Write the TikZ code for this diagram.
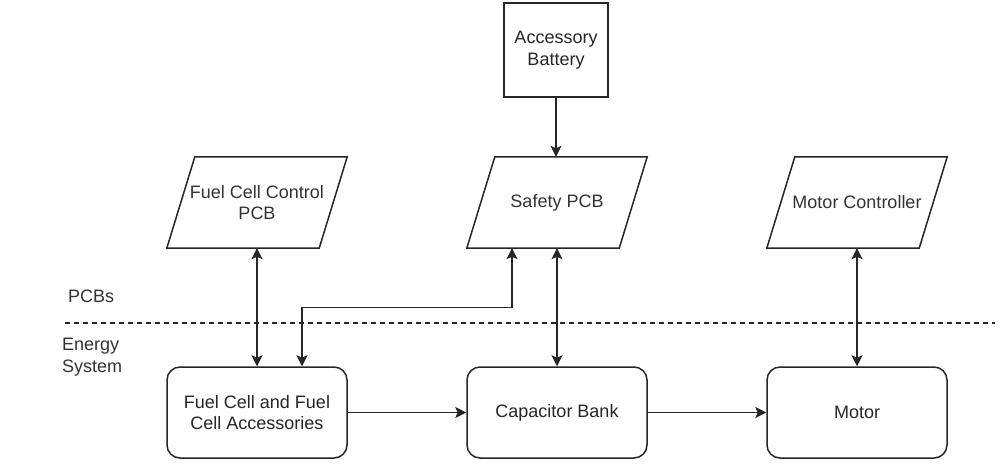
\documentclass[tikz,border=0pt]{standalone}
\usepackage{fontspec}
\setmainfont{Liberation Sans}
\usetikzlibrary{arrows.meta}
\begin{document}
\begin{tikzpicture}[x=1pt,y=-1pt,
  every node/.style={font=\fontsize{18}{21.6}\selectfont, text=black!80},
  line/.style={line width=1.5pt, black!85},
  blk/.style={line, draw, minimum width=180pt, minimum height=91pt, inner sep=0pt, align=center},
  roundbox/.style={blk, rounded corners=13pt},
  pcb/.style={minimum width=180pt, minimum height=91pt, inner sep=0pt, align=center},
  conn/.style={line, -{Stealth[length=11pt,width=11pt,inset=2.5pt]}},
  dconn/.style={line, {Stealth[length=11pt,width=11pt,inset=2.5pt]}-{Stealth[length=11pt,width=11pt,inset=2.5pt]}},
  lbl/.style={inner sep=0pt, align=left}
]
\useasboundingbox[fill=white] (0,0) rectangle (1003,475);

\node[blk, minimum width=104pt, minimum height=94pt] (bat) at (556,50) {Accessory\\Battery};
\node[pcb] (fcc) at (257,202.5) {Fuel Cell Control\\PCB};
\node[pcb] (spcb) at (557,202.5) {Safety PCB};
\node[pcb] (mc) at (857,202.5) {Motor Controller};
\foreach \n in {fcc,spcb,mc}
  \draw[line, line join=miter] ([xshift=28pt]\n.north west) -- (\n.north east) -- ([xshift=-28pt]\n.south east) -- (\n.south west) -- cycle;

\node[roundbox] (fc) at (257,412.5) {Fuel Cell and Fuel\\Cell Accessories};
\node[roundbox] (cap) at (557,412.5) {Capacitor Bank};
\node[roundbox] (mot) at (857,412.5) {Motor};

\node[lbl, anchor=west] (pcbs) at (68,296) {PCBs};
\node[lbl, anchor=west] (es) at (62,357) {Energy\\System};

\coordinate (dl) at (65,323);
\coordinate (dr) at (995,323);
\draw[line, dash pattern=on 4.5pt off 4.5pt] (dl) -- (dr);

\draw[conn] (bat.south) -- (bat.south |- spcb.north);
\draw[dconn] (fcc.south) -- (fc.north);
\draw[dconn] (spcb.south) -- (cap.north);
\draw[dconn] (mc.south) -- (mot.north);
\draw[dconn] ([xshift=-45pt]spcb.south) |- ([xshift=45pt,yshift=59pt]fc.north) -- ([xshift=45pt]fc.north);
\draw[conn] (fc.east) -- (cap.west);
\draw[conn] (cap.east) -- (mot.west);
\end{tikzpicture}
\end{document}
